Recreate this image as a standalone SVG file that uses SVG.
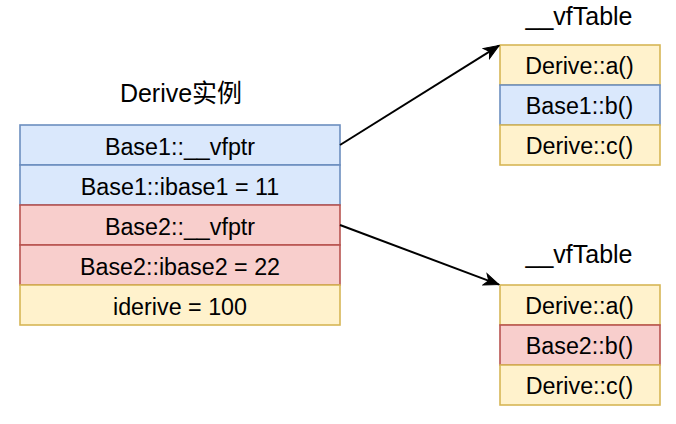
<svg xmlns="http://www.w3.org/2000/svg" width="676" height="424" viewBox="0 0 676 424">
<style>
  text { font-family: "Liberation Sans", Arial, Helvetica, sans-serif; font-size: 23.3px; fill: #000; text-anchor: middle; }
  .title { font-size: 25px; }
  .cjk { font-family: "Liberation Sans", "Noto Sans CJK SC", sans-serif; }
  .blue { fill: #dae8fc; stroke: #6c8ebf; stroke-width: 1.6; }
  .red { fill: #f8cecc; stroke: #b85450; stroke-width: 1.6; }
  .yellow { fill: #fff2cc; stroke: #d6b656; stroke-width: 1.6; }
  .edge { fill: none; stroke: #000; stroke-width: 2; }
</style>
<defs>
  <marker id="arrow" markerUnits="userSpaceOnUse" viewBox="-16 -7 17 14" markerWidth="17" markerHeight="14" refX="0" refY="0" orient="auto">
    <path d="M0,0 L-15,-6 L-11,0 L-15,6 Z" fill="#000" stroke="#000" stroke-width="1"/>
  </marker>
</defs>
<rect width="676" height="424" fill="#ffffff"/>

<g id="title-derive"><text class="title cjk" x="181" y="102">Derive实例</text></g>
<g id="title-vftable1"><text class="title" x="579" y="25">__vfTable</text></g>
<g id="title-vftable2"><text class="title" x="579" y="263">__vfTable</text></g>

<g id="derive-base1-vfptr"><rect class="blue" x="20" y="125" width="320" height="40"/><text x="180" y="154.5">Base1::__vfptr</text></g>
<g id="derive-base1-ibase1"><rect class="blue" x="20" y="165" width="320" height="40"/><text x="180" y="194.5">Base1::ibase1 = 11</text></g>
<g id="derive-base2-vfptr"><rect class="red" x="20" y="205" width="320" height="40"/><text x="180" y="234.5">Base2::__vfptr</text></g>
<g id="derive-base2-ibase2"><rect class="red" x="20" y="245" width="320" height="40"/><text x="180" y="274.5">Base2::ibase2 = 22</text></g>
<g id="derive-iderive"><rect class="yellow" x="20" y="285" width="320" height="40"/><text x="180" y="314.5">iderive = 100</text></g>

<g id="vt1-a"><rect class="yellow" x="500" y="45" width="160" height="40"/><text x="579.5" y="74">Derive::a()</text></g>
<g id="vt1-b"><rect class="blue" x="500" y="85" width="160" height="40"/><text x="579.5" y="114">Base1::b()</text></g>
<g id="vt1-c"><rect class="yellow" x="500" y="125" width="160" height="40"/><text x="579.5" y="154">Derive::c()</text></g>

<g id="vt2-a"><rect class="yellow" x="500" y="285" width="160" height="40"/><text x="579.5" y="314">Derive::a()</text></g>
<g id="vt2-b"><rect class="red" x="500" y="325" width="160" height="40"/><text x="579.5" y="354">Base2::b()</text></g>
<g id="vt2-c"><rect class="yellow" x="500" y="365" width="160" height="40"/><text x="579.5" y="394">Derive::c()</text></g>

<g id="connectors">
  <line class="edge" x1="340" y1="145" x2="499" y2="45.6" marker-end="url(#arrow)"/>
  <line class="edge" x1="340" y1="225" x2="499" y2="284.6" marker-end="url(#arrow)"/>
</g>
</svg>
